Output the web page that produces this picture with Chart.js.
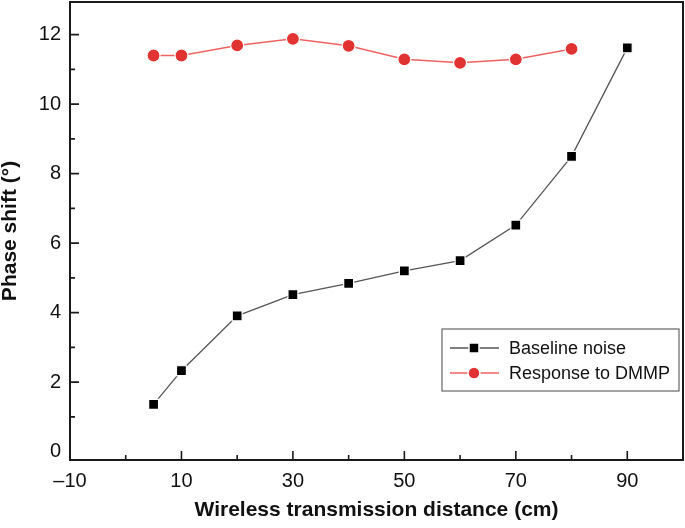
<!DOCTYPE html>
<html>
<head>
<meta charset="utf-8">
<script src="https://cdn.jsdelivr.net/npm/chart.js@4"></script>
<style>
    html, body { margin: 0; padding: 0; background: #fff; }
    #wrap { width: 685px; height: 528px; }
</style>
</head>
<body>
<div id="wrap"><canvas id="chart" width="685" height="528"></canvas></div>
<script>
// values
const distances = [5, 10, 20, 30, 40, 50, 60, 70, 80, 90];
const baselineNoise = [1.36, 2.33, 3.91, 4.52, 4.84, 5.20, 5.50, 6.52, 8.50, 11.62];
const dmmpDistances = [5, 10, 20, 30, 40, 50, 60, 70, 80];
const dmmpResponse = [11.40, 11.40, 11.69, 11.88, 11.68, 11.29, 11.19, 11.29, 11.59];

const xLabelTicks = [-10, 10, 30, 50, 70, 90];
const xMinorTicks = [0, 20, 40, 60, 80];
const yLabelTicks = [0, 2, 4, 6, 8, 10, 12];
const yMinorTicks = [1, 3, 5, 7, 9, 11];

const RED = '#e23333';
const FONT = '"Liberation Sans", Arial, sans-serif';

const toPoints = (xs, ys) => xs.map((x, i) => ({ x: x, y: ys[i] }));

// frame + inward tick marks
const frameTicks = {
    id: 'frameTicks',
    afterDraw(chart) {
        const { ctx, chartArea: a, scales: { x, y } } = chart;
        ctx.save();
        ctx.strokeStyle = '#1a1a1a';
        ctx.lineWidth = 2;
        ctx.strokeRect(a.left, a.top, a.right - a.left, a.bottom - a.top);

        ctx.lineWidth = 1.6;
        ctx.beginPath();
        xLabelTicks.concat(xMinorTicks).forEach(v => {
            if (v === x.min) return;
            const px = x.getPixelForValue(v);
            const len = xLabelTicks.includes(v) ? 9 : 5;
            ctx.moveTo(px, a.bottom);
            ctx.lineTo(px, a.bottom - len);
        });
        yLabelTicks.concat(yMinorTicks).forEach(v => {
            if (v === 0) return;
            const py = y.getPixelForValue(v);
            const len = yLabelTicks.includes(v) ? 9 : 5;
            ctx.moveTo(a.left, py);
            ctx.lineTo(a.left + len, py);
        });
        ctx.stroke();
        ctx.restore();
    }
};

// Origin style legend box, line through the marker
const boxLegend = {
    id: 'boxLegend',
    afterDraw(chart) {
        const { ctx, chartArea: a } = chart;
        const bx = a.right - 241, by = a.bottom - 131, bw = 237, bh = 62;
        ctx.save();
        ctx.fillStyle = '#fff';
        ctx.fillRect(bx, by, bw, bh);
        ctx.strokeStyle = '#666';
        ctx.lineWidth = 1.2;
        ctx.strokeRect(bx, by, bw, bh);

        ctx.font = '18px ' + FONT;
        ctx.textBaseline = 'middle';
        chart.data.datasets.forEach((ds, i) => {
            const ry = by + 19 + i * 25;
            ctx.strokeStyle = ds.borderColor;
            ctx.lineWidth = ds.borderWidth;
            ctx.beginPath();
            ctx.moveTo(bx + 8, ry);
            ctx.lineTo(bx + 57, ry);
            ctx.stroke();

            ctx.fillStyle = ds.pointBackgroundColor;
            ctx.strokeStyle = '#fff';
            ctx.lineWidth = 1.5;
            ctx.beginPath();
            if (ds.pointStyle === 'rect') {
                ctx.rect(bx + 32 - 5, ry - 5, 10, 10);
            } else {
                ctx.arc(bx + 32, ry, 6, 0, Math.PI * 2);
            }
            ctx.fill();
            ctx.stroke();

            ctx.fillStyle = '#111';
            ctx.fillText(ds.label, bx + 67, ry + 1);
        });
        ctx.restore();
    }
};

new Chart(document.getElementById('chart'), {
    type: 'line',
    data: {
        datasets: [{
            label: 'Baseline noise',
            data: toPoints(distances, baselineNoise),
            borderColor: '#555',
            borderWidth: 1.3,
            pointStyle: 'rect',
            pointRadius: 7,
            pointBackgroundColor: '#000',
            pointBorderColor: '#fff',
            pointBorderWidth: 1.2,
            tension: 0
        }, {
            label: 'Response to DMMP',
            data: toPoints(dmmpDistances, dmmpResponse),
            borderColor: '#f06262',
            borderWidth: 1.5,
            pointStyle: 'circle',
            pointRadius: 6.5,
            pointBackgroundColor: RED,
            pointBorderColor: '#fff',
            pointBorderWidth: 1.2,
            tension: 0
        }]
    },
    options: {
        responsive: false,
        animation: false,
        layout: { autoPadding: false, padding: { top: 2, right: 2, left: 0, bottom: 0 } },
        plugins: {
            legend: { display: false },
            tooltip: { enabled: false }
        },
        scales: {
            x: {
                type: 'linear',
                min: -10,
                max: 100,
                afterBuildTicks: scale => {
                    scale.ticks = xLabelTicks.concat(xMinorTicks).sort((a, b) => a - b).map(v => ({ value: v }));
                },
                afterFit: scale => {
                    scale.height = 68;
                    scale.paddingLeft = 0;
                    scale.paddingRight = 0;
                },
                grid: { display: false, drawTicks: false },
                border: { display: false },
                ticks: {
                    padding: 9,
                    color: '#111',
                    font: { family: FONT, size: 20 },
                    callback: v => xLabelTicks.includes(v) ? (v < 0 ? '\u2013' + Math.abs(v) : String(v)) : ''
                },
                title: {
                    display: true,
                    text: 'Wireless transmission distance (cm)',
                    color: '#111',
                    font: { family: FONT, size: 21, weight: 'bold', lineHeight: 1 },
                    padding: { top: 0, bottom: 7 }
                }
            },
            y: {
                min: -0.24,
                max: 12.94,
                afterBuildTicks: scale => {
                    scale.ticks = yLabelTicks.concat(yMinorTicks).sort((a, b) => a - b).map(v => ({ value: v }));
                },
                afterFit: scale => {
                    scale.width = 70;
                    scale.paddingTop = 0;
                    scale.paddingBottom = 0;
                },
                grid: { display: false, drawTicks: false },
                border: { display: false },
                ticks: {
                    padding: 9,
                    color: '#111',
                    font: { family: FONT, size: 20 },
                    callback: v => yLabelTicks.includes(v) ? String(v) : ''
                },
                title: {
                    display: true,
                    text: 'Phase shift (\u00b0)',
                    color: '#111',
                    font: { family: FONT, size: 21, weight: 'bold', lineHeight: 1 },
                    padding: { top: 0, bottom: 0 }
                }
            }
        }
    },
    plugins: [frameTicks, boxLegend]
});
</script>
</body>
</html>
